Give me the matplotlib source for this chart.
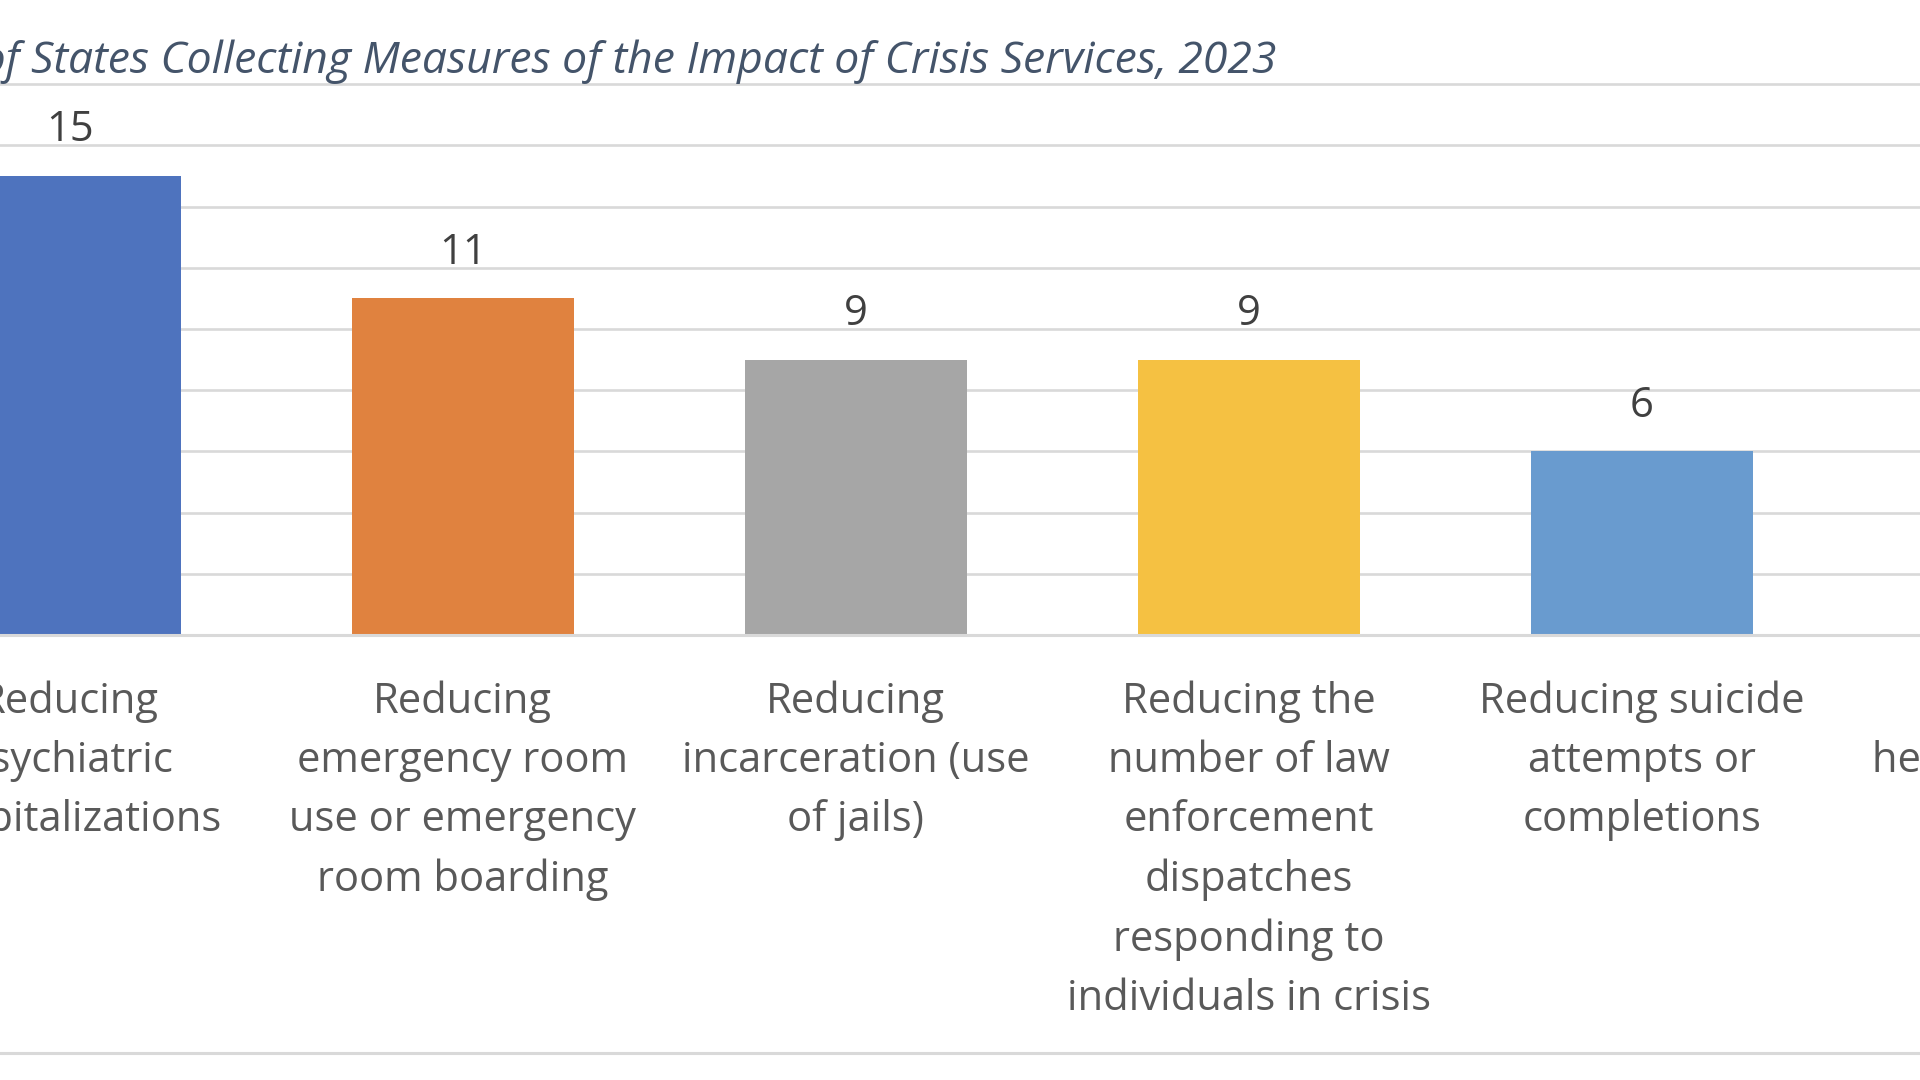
import matplotlib
matplotlib.use("Agg")
import matplotlib.pyplot as plt
from matplotlib.lines import Line2D

# Data
categories = [
    "Reducing\npsychiatric\nhospitalizations",
    "Reducing\nemergency room\nuse or emergency\nroom boarding",
    "Reducing\nincarceration (use\nof jails)",
    "Reducing the\nnumber of law\nenforcement\ndispatches\nresponding to\nindividuals in crisis",
    "Reducing suicide\nattempts or\ncompletions",
    "Improving\nhealth outcomes",
]
num_states = [15, 11, 9, 9, 6, 4]
bar_colors = ["#4E73BE", "#E0823F", "#A6A6A6", "#F5C142", "#699BCF", "#70AD47"]

title = "Number of States Collecting Measures of the Impact of Crisis Services, 2023"

plt.rcParams['font.family'] = ['Open Sans', 'DejaVu Sans']

fig = plt.figure(figsize=(19.2, 10.8), dpi=100)
# the reference is a crop of a wider chart, so the axes run past the left/right edges
ax = fig.add_axes([0, 445 / 1080, 1, 18.1 * 30.6 / 1080])

x = list(range(len(categories)))
ax.bar(x, num_states, width=0.565, color=bar_colors, zorder=2)

ax.set_xlim(-69.6 / 393, (1920 - 69.6) / 393)
ax.set_ylim(0, 18.1)

# value labels
for xi, v in zip(x, num_states):
    ax.annotate(str(v), xy=(xi, v), xytext=(0, 25), textcoords='offset points',
                ha='center', va='baseline', fontsize=30, color='#404040',
                annotation_clip=False)

# category labels (drawn as text so the half-visible last one still shows)
for xi, lab in zip(x, categories):
    ax.annotate(lab, xy=(xi, 0), xycoords=('data', 'axes fraction'),
                xytext=(0, -33), textcoords='offset points',
                ha='center', va='top', fontsize=30, color='#595959',
                linespacing=1.53, annotation_clip=False)

ax.set_xticks([])
ax.set_yticks(range(2, 19, 2))
ax.tick_params(axis='y', length=0, labelleft=False)
ax.yaxis.grid(True, color='#D9D9D9', linewidth=1.9)
ax.set_axisbelow(True)
for s in ['top', 'left', 'right']:
    ax.spines[s].set_visible(False)
ax.spines['bottom'].set_color('#D9D9D9')
ax.spines['bottom'].set_linewidth(2.2)

fig.text(1276 / 1920, (1080 - 73) / 1080, title, ha='right', va='baseline',
         fontsize=32, style='italic', color='#44546A')

# bottom edge of the chart area
fig.add_artist(Line2D([0, 1], [27 / 1080, 27 / 1080], color='#D9D9D9', linewidth=2.2))

plt.savefig('out.png', dpi=100)
